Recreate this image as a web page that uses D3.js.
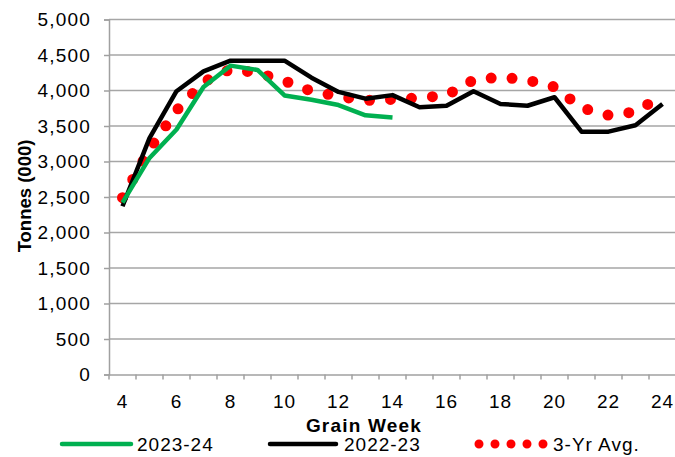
<!DOCTYPE html>
<html>
<head>
<meta charset="utf-8">
<script src="https://cdn.jsdelivr.net/npm/d3@7"></script>
<style>
  body { margin: 0; background: #fff; }
  svg { font-family: "Liberation Sans", Arial, sans-serif; }
</style>
</head>
<body>
<div class="chart"></div>
<script>
// chart data
var weeks = d3.range(4, 25);
var weekLabels = [4, 6, 8, 10, 12, 14, 16, 18, 20, 22, 24];
var yTicks = [0, 500, 1000, 1500, 2000, 2500, 3000, 3500, 4000, 4500, 5000];

var season2324 = [2420, 3050, 3450, 4050, 4350, 4290, 3930, 3870, 3795, 3650, 3620];
var season2223 = [2370, 3330, 3990, 4270, 4420, 4420, 4420, 4180, 3980, 3885, 3935,
  3765, 3785, 3990, 3810, 3785, 3905, 3420, 3420, 3510, 3810];
var avg3yr = [2490, 3170, 3720, 4120, 4300, 4250, 4135, 3990, 3918, 3860, 3876,
  3895, 3932, 4148, 4190, 4147, 4050, 3756, 3652, 3700, 3930];

var svgWidth = 675;
var svgHeight = 457;

var margin = { top: 19.5, right: 0, bottom: 82.5, left: 109 };
var width = 676 - margin.left;
var height = svgHeight - margin.top - margin.bottom;

var svg = d3.select(".chart")
  .append("svg")
  .attr("width", svgWidth)
  .attr("height", svgHeight);

var chartGroup = svg.append("g")
  .attr("transform", `translate(${margin.left}, ${margin.top})`);

// scales
var xScale = d3.scaleBand()
  .domain(weeks)
  .range([0, width])
  .padding(0);

var yScale = d3.scaleLinear()
  .domain([0, 5000])
  .range([height, 0]);

var xc = d => xScale(d) + xScale.bandwidth() / 2;

// gridlines
chartGroup.append("g")
  .selectAll("line")
  .data(yTicks.filter(d => d > 0))
  .enter()
  .append("line")
  .attr("x1", 0)
  .attr("x2", width)
  .attr("y1", d => yScale(d))
  .attr("y2", d => yScale(d))
  .attr("stroke", "#a6a6a6")
  .attr("stroke-width", 1.5);

// y axis
var yAxis = d3.axisLeft(yScale)
  .tickValues(yTicks)
  .tickSize(5)
  .tickPadding(13)
  .tickFormat(d3.format(","));

var yg = chartGroup.append("g").call(yAxis);
yg.select(".domain").attr("stroke", "#a0a0a0").attr("stroke-width", 1.5);
yg.selectAll(".tick line").attr("stroke", "#a0a0a0").attr("stroke-width", 1.5);
yg.selectAll("text")
  .attr("font-size", 19)
  .attr("letter-spacing", 1.2)
  .attr("fill", "#000")
  .attr("font-family", "Liberation Sans, Arial, sans-serif");

// x axis: labels on every other week, tick marks on category boundaries
var xAxis = d3.axisBottom(xScale)
  .tickValues(weekLabels)
  .tickSize(0)
  .tickPadding(20);

var xg = chartGroup.append("g")
  .attr("transform", `translate(0, ${height})`)
  .call(xAxis);
xg.select(".domain").attr("stroke", "#a0a0a0").attr("stroke-width", 1.5);
xg.selectAll("text")
  .attr("font-size", 19)
  .attr("letter-spacing", 1)
  .attr("fill", "#000")
  .attr("font-family", "Liberation Sans, Arial, sans-serif");

xg.selectAll(".bound")
  .data(weeks.concat([25]))
  .enter()
  .append("line")
  .attr("class", "bound")
  .attr("x1", d => d === 25 ? width : xScale(d))
  .attr("x2", d => d === 25 ? width : xScale(d))
  .attr("y1", 0)
  .attr("y2", 5)
  .attr("stroke", "#a0a0a0")
  .attr("stroke-width", 1.5);

// axis titles
svg.append("text")
  .attr("x", 364)
  .attr("y", 432)
  .attr("text-anchor", "middle")
  .attr("font-size", 19)
  .attr("letter-spacing", 1.2)
  .attr("font-weight", "bold")
  .text("Grain Week");

svg.append("text")
  .attr("transform", "translate(31, 196) rotate(-90)")
  .attr("text-anchor", "middle")
  .attr("font-size", 18.5)
  .attr("font-weight", "bold")
  .text("Tonnes (000)");

// line generator
var line = d3.line()
  .x((d, i) => xc(weeks[i]))
  .y(d => yScale(d));

chartGroup.append("path")
  .datum(avg3yr)
  .attr("d", line)
  .attr("fill", "none")
  .attr("stroke", "#ff0000")
  .attr("stroke-width", 11)
  .attr("stroke-linecap", "round")
  .attr("stroke-dasharray", "0,21");

chartGroup.append("path")
  .datum(season2223)
  .attr("d", line)
  .attr("fill", "none")
  .attr("stroke", "#000")
  .attr("stroke-width", 4.5)
  .attr("stroke-linejoin", "round");

chartGroup.append("path")
  .datum(season2324)
  .attr("d", line)
  .attr("fill", "none")
  .attr("stroke", "#00b050")
  .attr("stroke-width", 4.5)
  .attr("stroke-linejoin", "round");

// legend
var legendItems = [
  { name: "2023-24", color: "#00b050", x1: 62, x2: 131, tx: 137, dots: false },
  { name: "2022-23", color: "#000", x1: 270, x2: 336, tx: 344, dots: false },
  { name: "3-Yr Avg.", color: "#ff0000", x1: 479, x2: 544, tx: 553, dots: true }
];

var legend = svg.append("g");
legend.selectAll("line")
  .data(legendItems)
  .enter()
  .append("line")
  .attr("x1", d => d.x1)
  .attr("x2", d => d.x2)
  .attr("y1", 444)
  .attr("y2", 444)
  .attr("stroke", d => d.color)
  .attr("stroke-width", d => d.dots ? 9 : 4.5)
  .attr("stroke-linecap", "round")
  .attr("stroke-dasharray", d => d.dots ? "0,16" : null);

legend.selectAll("text")
  .data(legendItems)
  .enter()
  .append("text")
  .attr("x", d => d.tx)
  .attr("y", 451)
  .attr("font-size", 19)
  .attr("letter-spacing", 1)
  .text(d => d.name);
</script>
</body>
</html>
